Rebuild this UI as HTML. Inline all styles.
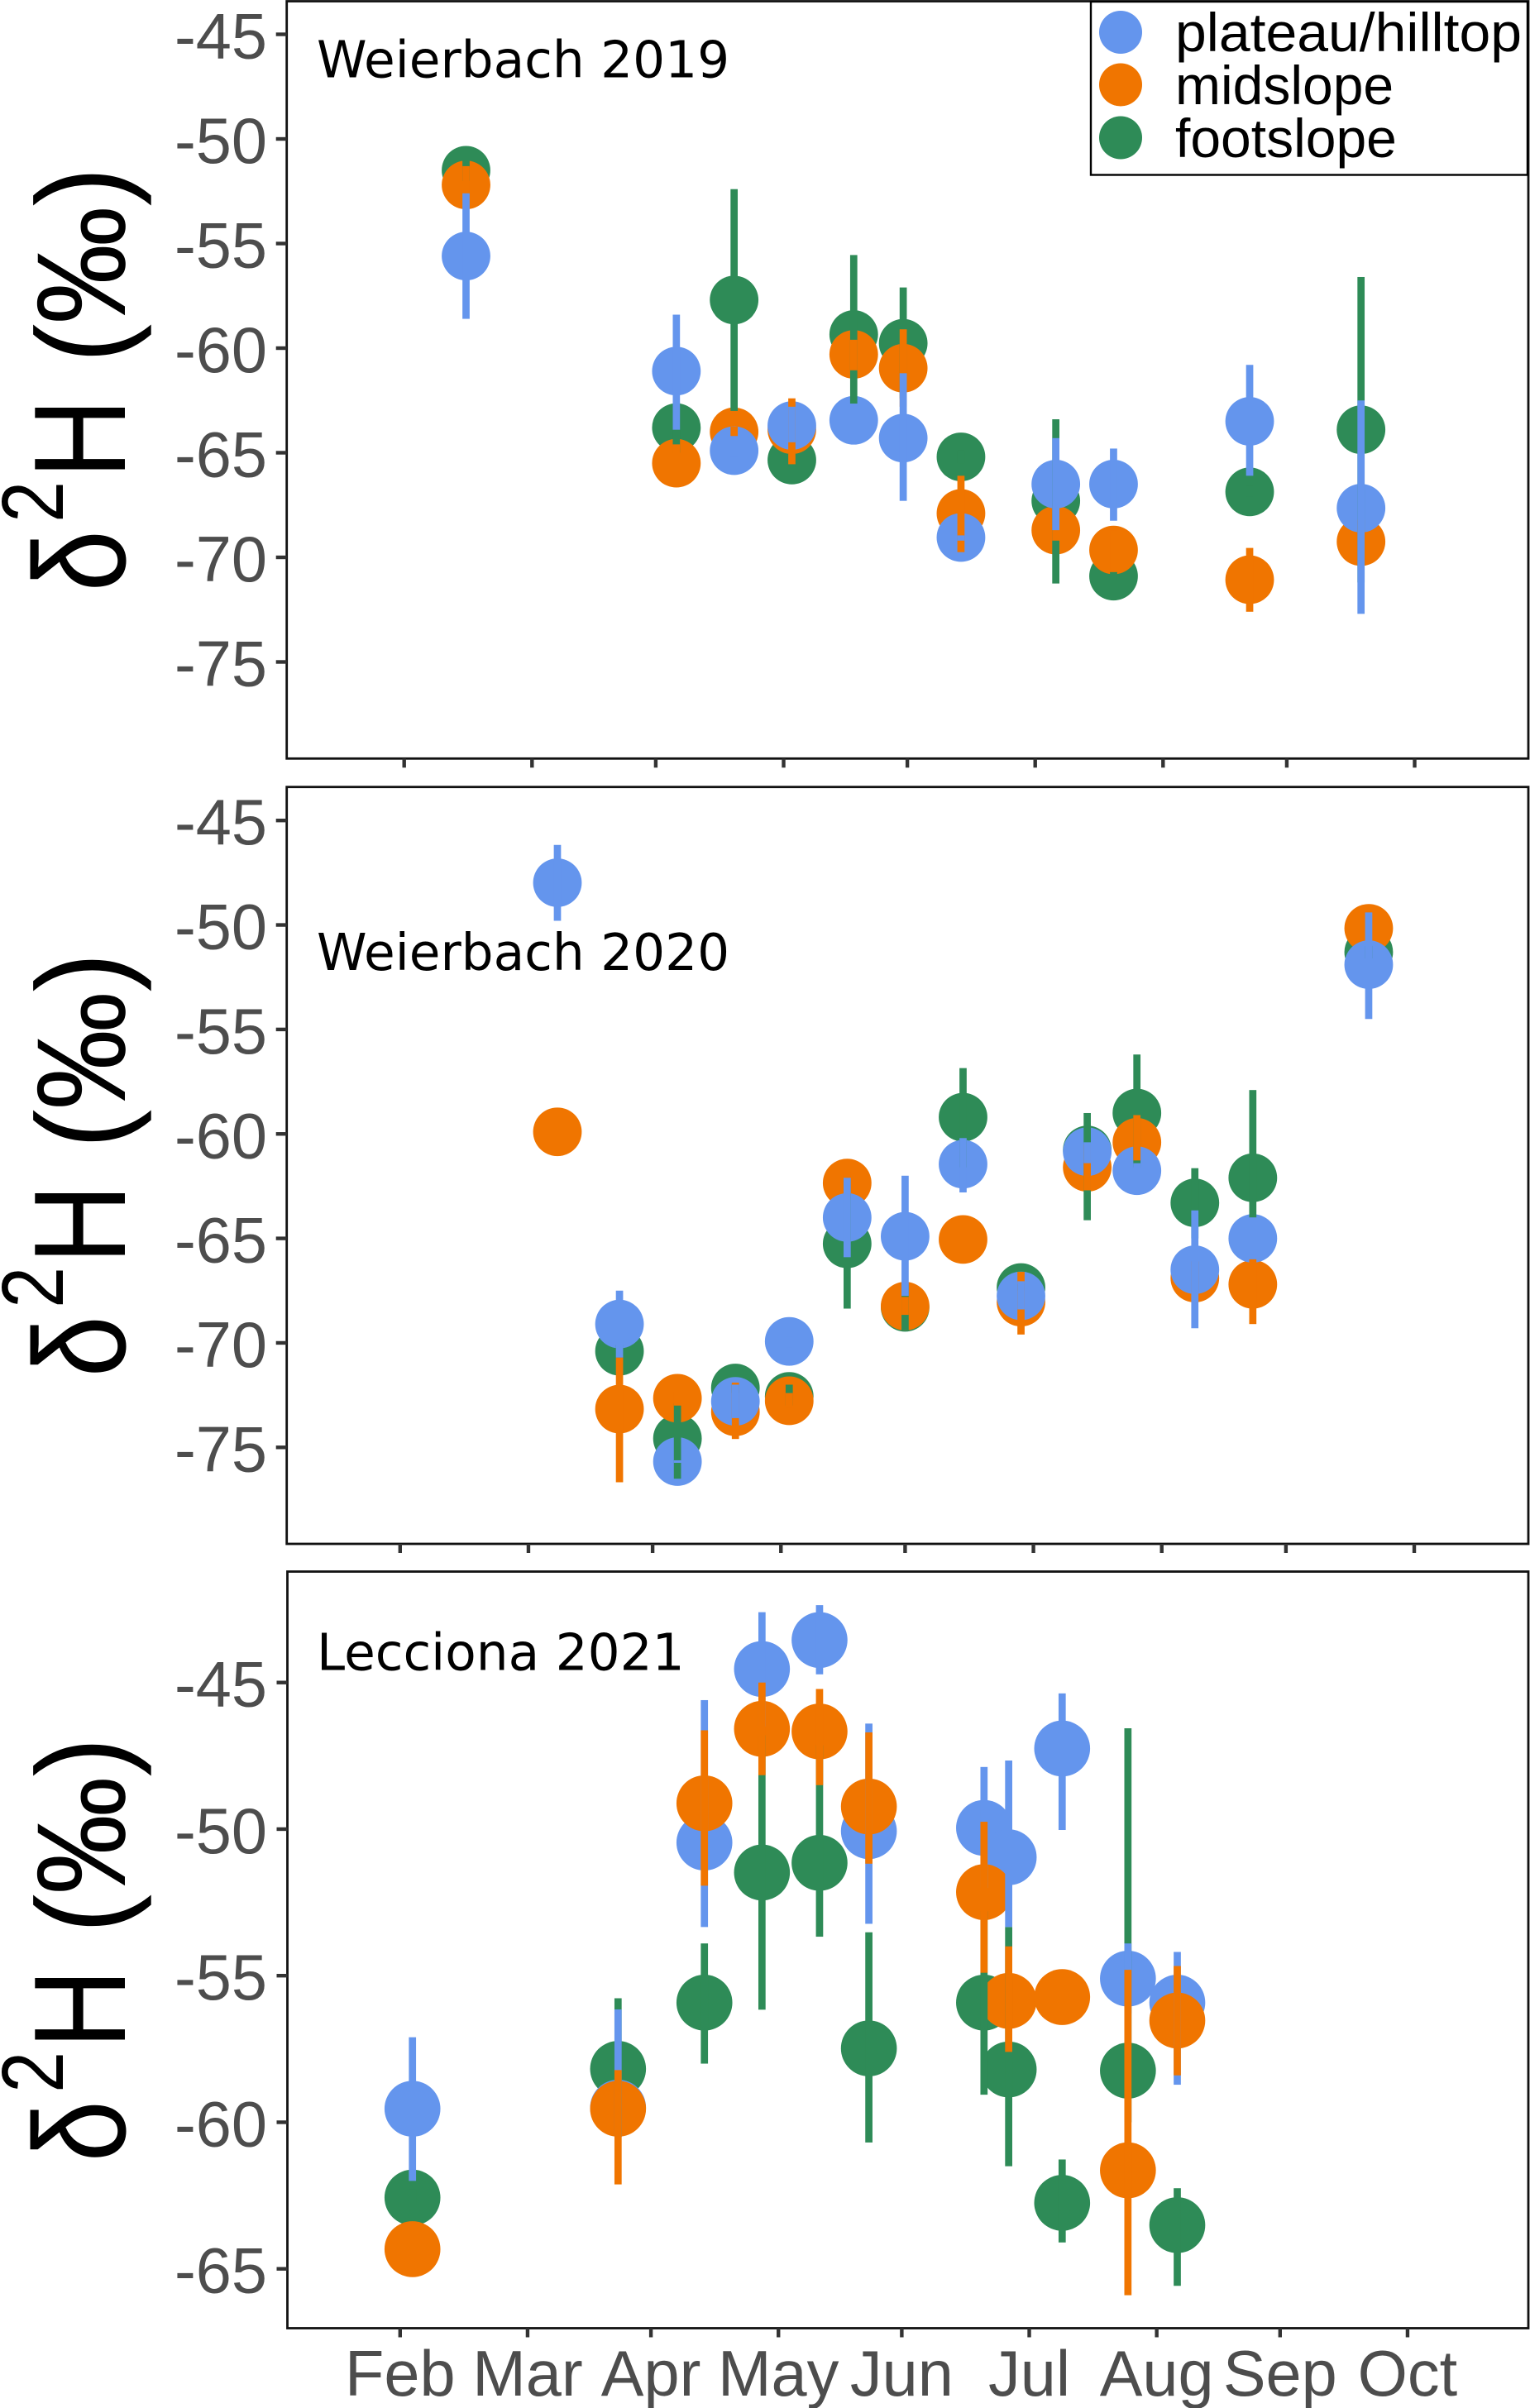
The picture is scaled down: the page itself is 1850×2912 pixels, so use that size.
<!DOCTYPE html>
<html lang="en">
<head>
<meta charset="utf-8">
<title>Isotope signature by hillslope position</title>
<style>
html,body{margin:0;padding:0;background:#fff;width:1850px;height:2912px;overflow:hidden}
svg{display:block}
text{font-family:"Liberation Sans",Arial,sans-serif}
.tick-label{fill:#4d4d4d;font-size:77.5px}
.panel-title{font-family:"DejaVu Sans",sans-serif;font-size:61.3px;fill:#000}
.legend-text{font-size:66px;fill:#000}
.y-title{font-size:158px;fill:#000}
.y-title-unit{font-size:153px;fill:#000}
</style>
</head>
<body>
<svg id="chart" xmlns="http://www.w3.org/2000/svg" width="1850" height="2912" viewBox="0 0 1850 2912">
  <g id="panels"></g>
  <g id="legend">
    <rect x="1319" y="2" width="528" height="209.5" fill="#fff" stroke="#000" stroke-width="2.4"/>
    <circle cx="1355" cy="39" r="26" fill="#6495ED"/>
    <text class="legend-text" x="1421" y="62" textLength="419" lengthAdjust="spacingAndGlyphs">plateau/hilltop</text>
    <circle cx="1355" cy="102.5" r="26" fill="#F07500"/>
    <text class="legend-text" x="1421" y="126">midslope</text>
    <circle cx="1355" cy="166.5" r="26" fill="#2E8B57"/>
    <text class="legend-text" x="1421" y="190">footslope</text>
  </g>
</svg>
<script>
// Shared axis data
const monthLabels = ["Feb","Mar","Apr","May","Jun","Jul","Aug","Sep","Oct"];
const monthTickDays = [0,31,61,92,122,153,184,214,245];
const yTicksLong = [-45,-50,-55,-60,-65,-70,-75];
const yTicksShort = [-45,-50,-55,-60,-65];

// Weierbach 2019
const days2019 = [15,66,80,94,109,121,135,158,172,205,232];
const plateau2019 = [-55.6,-61.1,-64.9,-63.7,-63.45,-64.3,-69.05,-66.5,-66.5,-63.5,-67.65];
const plateauHigh2019 = [-52.6,-58.4,-64.6,-62.8,-62.9,-61.2,-68.95,-64.3,-64.8,-60.8,-62.5];
const plateauLow2019 = [-58.6,-63.9,-65.2,-64.5,-64.0,-67.3,-69.2,-68.7,-68.25,-66.1,-72.7];
const midslope2019 = [-52.2,-65.5,-64.0,-63.9,-60.3,-60.96,-67.9,-68.7,-69.65,-71.07,-69.25];
const midslopeHigh2019 = [-51.3,-64.6,-63.75,-62.4,-59.6,-59.1,-66.1,-68.2,-68.7,-69.55,-68.2];
const midslopeLow2019 = [-53.1,-66.3,-64.2,-65.55,-61.06,-62.8,-69.75,-69.2,-70.7,-72.6,-70.3];
const footslope2019 = [-51.5,-63.8,-57.7,-65.35,-59.35,-59.77,-65.2,-67.3,-70.9,-66.87,-63.9];
const footslopeHigh2019 = [-51.0,-62.6,-52.4,-65.0,-55.55,-57.1,-64.9,-63.4,-70.7,-66.6,-56.6];
const footslopeLow2019 = [-52.0,-65.0,-63.0,-65.7,-62.65,-62.4,-65.5,-71.25,-71.1,-67.1,-71.2];

// Weierbach 2020
const days2020 = [38,53,67,81,94,108,122,136,150,166,178,192,206,234];
const plateau2020 = [-47.98,-69.1,-75.68,-72.8,-69.93,-64.0,-64.9,-61.45,-67.75,-60.85,-61.76,-66.5,-65.0,-51.9];
const plateauHigh2020 = [-46.17,-67.5,-75.62,-72.0,-69.7,-62.1,-62.0,-60.2,-67.05,-60.4,-61.4,-63.66,-64.0,-49.4];
const plateauLow2020 = [-49.8,-70.7,-75.74,-73.6,-70.2,-65.9,-67.75,-62.8,-68.4,-61.4,-62.1,-69.3,-65.8,-54.5];
const midslope2020 = [-59.9,-73.17,-72.65,-73.3,-72.77,-62.35,-68.24,-65.05,-68.05,-61.6,-60.4,-66.9,-67.2,-50.16];
const midslopeHigh2020 = [null,-70.7,-72.3,-71.9,-72.4,-61.8,-67.8,null,-66.6,-60.5,-59.1,-66.1,-66.0,-49.8];
const midslopeLow2020 = [null,-76.67,-73.0,-74.6,-73.1,-62.9,-68.66,null,-69.6,-62.7,-61.27,-67.7,-69.1,-50.5];
const footslope2020 = [null,-70.4,-74.58,-72.16,-72.56,-65.26,-68.3,-59.2,-67.35,-60.77,-59.0,-63.3,-62.1,-51.3];
const footslopeHigh2020 = [null,-70.1,-72.9,-71.95,-72.0,-62.2,-67.2,-56.85,-67.2,-59.0,-56.2,-61.64,-57.9,-51.0];
const footslopeLow2020 = [null,-70.7,-76.5,-72.4,-73.0,-68.36,-69.4,-61.6,-67.5,-64.13,-61.6,-65.0,-64.0,-51.6];

// Lecciona 2021
const days2021 = [3,53,74,88,102,114,142,148,161,177,189];
const plateau2021 = [-59.54,-59.5,-50.46,-44.54,-43.55,-50.07,-49.96,-50.96,-47.25,-55.1,-55.92];
const plateauHigh2021 = [-57.1,-56.15,-45.6,-42.6,-42.36,-46.4,-47.88,-47.66,-45.37,-53.9,-54.19];
const plateauLow2021 = [-62.0,-60.5,-53.34,-46.5,-44.72,-53.23,-52.0,-53.34,-50.03,-56.3,-58.72];
const midslope2021 = [-64.33,-59.54,-49.12,-46.58,-46.67,-49.23,-52.15,-55.86,-55.73,-61.64,-56.53];
const midslopeHigh2021 = [null,-58.22,-46.63,-45.0,-45.22,-46.7,-49.75,-54.0,null,-54.8,-54.67];
const midslopeLow2021 = [null,-62.12,-51.93,-48.16,-48.5,-51.18,-54.9,-57.6,null,-65.9,-58.4];
const footslope2021 = [-62.57,-58.18,-55.92,-51.48,-51.15,-57.48,-55.92,-58.2,-62.75,-58.24,-63.51];
const footslopeHigh2021 = [-62.3,-55.77,-53.9,-46.8,-47.14,-53.52,-52.8,-53.34,-61.27,-46.56,-62.25];
const footslopeLow2021 = [-62.8,-60.5,-58.0,-56.16,-53.67,-60.69,-59.06,-61.5,-64.1,-60.0,-65.58];

const NS = "http://www.w3.org/2000/svg";
const COLORS = {plateau:"#6495ED", midslope:"#F07500", footslope:"#2E8B57"};

const panels = [
  {id:"2019", title:"Weierbach 2019", titleY:93.5, top:1.5, bottom:917.3, left:346.7, right:1848,
   x0:488.7, xPerDay:4.987, y0:41.5, yPerUnit:25.3, r:29.4, barW:8.7, yTicks:yTicksLong, yTitleShift:0, showMonths:false,
   days:days2019, order:["footslope","midslope","plateau"],
   series:{plateau:[plateau2019,plateauHigh2019,plateauLow2019], midslope:[midslope2019,midslopeHigh2019,midslopeLow2019], footslope:[footslope2019,footslopeHigh2019,footslopeLow2019]}},
  {id:"2020", title:"Weierbach 2020", titleY:1173, top:951.7, bottom:1867, left:346.7, right:1848,
   x0:483.8, xPerDay:5.005, y0:992.2, yPerUnit:25.27, r:29.4, barW:8.7, yTicks:yTicksLong, yTitleShift:950, showMonths:false,
   days:days2020, order:["footslope","midslope","plateau"],
   series:{plateau:[plateau2020,plateauHigh2020,plateauLow2020], midslope:[midslope2020,midslopeHigh2020,midslopeLow2020], footslope:[footslope2020,footslopeHigh2020,footslopeLow2020]}},
  {id:"2021", title:"Lecciona 2021", titleY:2019.5, top:1900.5, bottom:2815.5, left:347.5, right:1848,
   x0:483.8, xPerDay:4.972, y0:2034.7, yPerUnit:35.45, r:33.8, barW:8.7, yTicks:yTicksShort, yTitleShift:1899, showMonths:true,
   days:days2021, order:["footslope","plateau","midslope"],
   series:{plateau:[plateau2021,plateauHigh2021,plateauLow2021], midslope:[midslope2021,midslopeHigh2021,midslopeLow2021], footslope:[footslope2021,footslopeHigh2021,footslopeLow2021]}}
];

function xScale(p, day){ return p.x0 + day * p.xPerDay; }
function yScale(p, v){ return p.y0 + (-45 - v) * p.yPerUnit; }

function make(tag, attrs, parent, txt){
  const el = document.createElementNS(NS, tag);
  for (const k in attrs) el.setAttribute(k, attrs[k]);
  if (txt !== undefined) el.textContent = txt;
  parent.appendChild(el);
  return el;
}

const root = document.getElementById("panels");

panels.forEach(function(p){
  const g = make("g", {}, root);
  
  

  const frame = make("rect", {x:p.left, y:p.top, width:p.right-p.left, height:p.bottom-p.top, fill:"#fff", stroke:"#111", "stroke-width":2.8}, g);
  
  

  p.yTicks.forEach(function(t){
    const y = yScale(p, t);
    const tick = make("line", {x1:p.left-13, x2:p.left, y1:y, y2:y, stroke:"#333", "stroke-width":4.4}, g);
    
    
    const lab = make("text", {"class":"tick-label", x:323, y:y+29, "text-anchor":"end"}, g, String(t));
    
    
  });

  monthTickDays.forEach(function(d, i){
    const x = xScale(p, d);
    const tick = make("line", {x1:x, x2:x, y1:p.bottom, y2:p.bottom+11, stroke:"#333", "stroke-width":4.4}, g);
    
    
    if (p.showMonths){
      const lab = make("text", {"class":"tick-label", x:x, y:2897, "text-anchor":"middle"}, g, monthLabels[i]);
      
      
    }
  });

  const title = make("text", {"class":"panel-title", x:383, y:p.titleY}, g, p.title);
  
  

  // rotated y-axis title: delta-2-H block plus the wider per-mille unit block
  const yt = make("text", {"class":"y-title", transform:"translate(151," + (712 + p.yTitleShift) + ") rotate(-90) scale(.845,1)"}, g);
  
  
  make("tspan", {x:-4, y:0}, yt, "\u03B4");
  make("tspan", {x:95, y:-75, "font-size":106}, yt, "2");
  make("tspan", {x:158, y:0}, yt, "H");
  const yu = make("text", {"class":"y-title-unit", transform:"translate(151," + (439 + p.yTitleShift) + ") rotate(-90) scale(.93,1)"}, g, "(\u2030)");
  
  

  // points first, then error bars, both in each panel's stacking order
  p.order.forEach(function(name){
    const vals = p.series[name][0];
    vals.forEach(function(v, i){
      if (v === null) return;
      const c = make("circle", {cx:xScale(p, p.days[i]), cy:yScale(p, v), r:p.r, fill:COLORS[name]}, g);
      
      
    });
  });
  p.order.forEach(function(name){
    const hi = p.series[name][1], lo = p.series[name][2];
    hi.forEach(function(h, i){
      if (h === null || lo[i] === null) return;
      const x = xScale(p, p.days[i]);
      const b = make("rect", {x:x-p.barW/2, y:yScale(p, h), width:p.barW, height:yScale(p, lo[i])-yScale(p, h), fill:COLORS[name]}, g);
      
      
    });
  });
});
</script>
</body>
</html>
